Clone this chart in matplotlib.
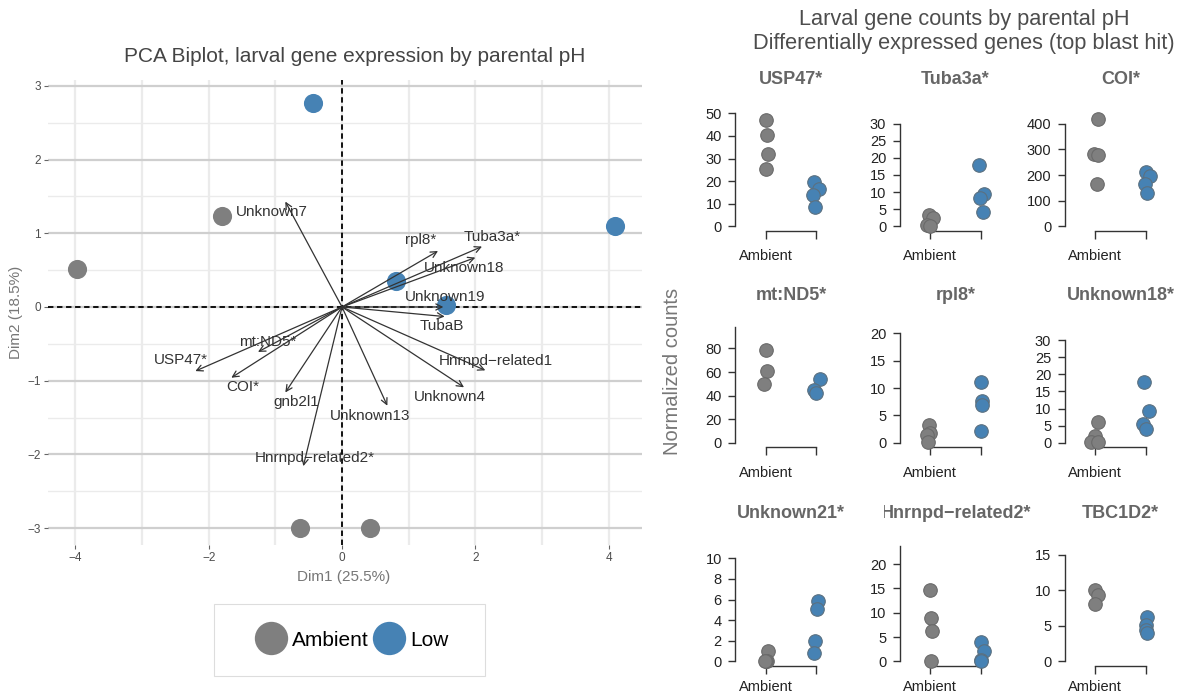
import numpy as np
import matplotlib
matplotlib.use('Agg')
import matplotlib.pyplot as plt
from matplotlib.lines import Line2D
from matplotlib.patches import Rectangle
from matplotlib.transforms import Bbox, TransformedBbox

plt.rcParams['font.family'] = ['Liberation Sans', 'DejaVu Sans']

W, H = 1182, 695
AMB = '#7f7f7f'
LOW = '#4682b4'

# ---- PCA scores, 4 larvae per parental pH ----
score_amb_x = [-3.98, -1.80, -0.63, 0.42]
score_amb_y = [0.51, 1.23, -3.00, -3.00]
score_low_x = [-0.44, 0.81, 1.56, 4.10]
score_low_y = [2.77, 0.35, 0.03, 1.10]

# ---- variable loadings (arrow tips) and label spots ----
load_names = ['Unknown7', 'rpl8*', 'Tuba3a*', 'Unknown18', 'Unknown19', 'TubaB',
              'Hnrnpd\u2212related1', 'Unknown4', 'Unknown13', 'Hnrnpd\u2212related2*',
              'gnb2l1', 'COI*', 'USP47*', 'mt:ND5*']
load_x = [-0.85, 1.44, 2.10, 2.00, 1.52, 1.54, 2.15, 1.83, 0.68, -0.58, -0.85, -1.66, -2.20, -1.26]
load_y = [1.43, 0.76, 0.82, 0.67, 0.00, -0.13, -0.86, -1.09, -1.34, -2.16, -1.16, -0.96, -0.87, -0.61]
label_x = [-1.05, 1.18, 2.25, 1.83, 1.54, 1.50, 2.30, 1.62, 0.42, -0.41, -0.69, -1.49, -2.42, -1.11]
label_y = [1.29, 0.91, 0.95, 0.53, 0.14, -0.26, -0.73, -1.22, -1.48, -2.05, -1.29, -1.09, -0.72, -0.47]

# ---- normalized counts per gene ----
genes = ['USP47*', 'Tuba3a*', 'COI*', 'mt:ND5*', 'rpl8*', 'Unknown18*',
         'Unknown21*', 'Hnrnpd\u2212related2*', 'TBC1D2*']
ambient = [[46.9, 40.4, 32.1, 25.4],
           [3.2, 2.4, 0.2, 0.0],
           [420, 281, 278, 163],
           [78.6, 60.8, 49.5],
           [3.2, 1.8, 1.5, 0.1],
           [6.1, 1.9, 0.3, 0.2],
           [1.0, 0.05, 0.0, 0.0],
           [14.7, 9.0, 6.2, 0.1],
           [10.1, 9.3, 8.1]]
low = [[19.4, 16.6, 13.9, 8.7],
       [17.8, 9.3, 8.4, 4.2],
       [212, 198, 163, 128],
       [53.7, 44.4, 42.4],
       [11.1, 7.6, 7.0, 2.1],
       [17.7, 9.2, 5.4, 4.1],
       [5.9, 5.1, 2.0, 0.8],
       [4.1, 2.05, 0.3, 0.0],
       [6.2, 5.1, 4.5, 4.0]]
# horizontal jitter (group units) as seen in the strip charts
amb_jit = [[0.0, 0.02, 0.05, 0.0], [-0.02, 0.06, -0.06, 0.0], [0.05, -0.03, 0.05, 0.04],
           [0.0, 0.02, -0.03], [-0.02, 0.0, -0.06, -0.05], [0.05, -0.01, -0.08, 0.05],
           [0.04, 0.02, 0.0, -0.02], [-0.01, 0.01, 0.03, 0.02], [-0.01, 0.05, -0.01]]
low_jit = [[-0.04, 0.05, -0.06, -0.03], [-0.04, 0.05, -0.02, 0.04], [0.0, 0.08, -0.01, 0.03],
           [0.06, -0.04, -0.01], [0.0, 0.03, 0.03, 0.01], [-0.03, 0.05, -0.05, 0.01],
           [0.03, 0.01, -0.03, -0.04], [0.0, 0.05, 0.01, 0.01], [0.03, 0.0, 0.01, 0.03]]
ylim_top = [50.1, 33.1, 441.6, 95.8, 20.66, 33.0, 10.94, 23.2, 15.9]
tick_step = [10, 5, 100, 20, 5, 5, 2, 5, 5]
tick_top = [50, 30, 400, 80, 20, 30, 10, 20, 15]
axis_top = [50, 30, 400, 98.4, 20, 30, 10, 23.8, 15]

fig = plt.figure(figsize=(W / 100, H / 100), dpi=100)


def box(l, t, w, h):
    # pixel box (left, top, width, height) -> figure fraction
    return [l / W, 1 - (t + h) / H, w / W, h / H]


def ftext(px, py, s, **kw):
    return fig.text(px / W, 1 - py / H, s, **kw)


# ================= PCA biplot =================
ax = fig.add_axes(box(48, 80, 594, 465))
ax.set_xlim(-4.41, 4.5)
ax.set_ylim(-3.23, 3.08)
ax.set_xticks([-4, -2, 0, 2, 4])
ax.set_xticks([-3, -1, 1, 3], minor=True)
ax.set_yticks(range(-3, 4))
ax.set_yticks(np.arange(-2.5, 3, 1), minor=True)
ax.xaxis.grid(True, which='both', color='#ebebeb', lw=1.6)
ax.yaxis.grid(True, which='major', color='#cfcfcf', lw=1.6)
ax.yaxis.grid(True, which='minor', color='#ebebeb', lw=1.0)
ax.set_axisbelow(True)
for s in ax.spines.values():
    s.set_visible(False)
ax.tick_params(which='major', length=3, color='#666666', labelsize=8.5,
               labelcolor='#4d4d4d', pad=2)
ax.tick_params(which='minor', length=0)
ax.axhline(0, color='black', ls=(0, (3, 2)), lw=1.3, zorder=1.5)
ax.axvline(0, color='black', ls=(0, (3, 2)), lw=1.3, zorder=1.5)

ax.scatter(score_amb_x, score_amb_y, s=190, color=AMB, lw=0, zorder=2)
ax.scatter(score_low_x, score_low_y, s=190, color=LOW, lw=0, zorder=2)

for gx, gy, lx, ly, name in zip(load_x, load_y, label_x, label_y, load_names):
    ax.annotate('', xy=(gx, gy), xytext=(0, 0),
                arrowprops=dict(arrowstyle='->', color='#333333', lw=0.9,
                                shrinkA=0, shrinkB=0, mutation_scale=11),
                zorder=3)
    ax.text(lx, ly, name, ha='center', va='center', fontsize=11, color='#333333', zorder=4)

ftext(355, 57, 'PCA Biplot, larval gene expression by parental pH', ha='center', va='center',
      fontsize=15, color='#444444')
ftext(344, 577, 'Dim1 (25.5%)', ha='center', va='center', fontsize=11, color='#777777')
ftext(16, 312, 'Dim2 (18.5%)', ha='center', va='center', fontsize=11, color='#777777',
      rotation=90)

# legend below the biplot
fig.add_artist(Rectangle((214 / W, 1 - 676 / H), 271 / W, 72 / H, transform=fig.transFigure,
                         fill=False, ec='#dddddd', lw=0.8))
handles = [Line2D([], [], marker='o', ls='', ms=24, color=AMB, mec='none'),
           Line2D([], [], marker='o', ls='', ms=24, color=LOW, mec='none')]
fig.legend(handles, ['Ambient', 'Low'], ncol=2, loc='center',
           bbox_to_anchor=(353 / W, 1 - 640 / H), frameon=False, fontsize=15,
           handlelength=1.3, handletextpad=0.35, columnspacing=0.35)

# ================= strip charts =================
ftext(964, 20, 'Larval gene counts by parental pH', ha='center', va='center',
      fontsize=15.7, color='#4d4d4d')
ftext(964, 44, 'Differentially expressed genes (top blast hit)', ha='center', va='center',
      fontsize=15.7, color='#4d4d4d')
ftext(673, 371, 'Normalized counts', ha='center', va='center', fontsize=14.5,
      color='#777777', rotation=90)

spine_px = [735, 899.5, 1064.5]
bracket_px = [230.7, 447.3, 666]
title_px = [80, 296, 513]
xlab_pad = [7.5, 7.5, 4.0]  # bottom row sits on the figure edge
clip = TransformedBbox(Bbox([[884 / W, 0], [1, 1]]), fig.transFigure)

for i, gene in enumerate(genes):
    r, c = divmod(i, 3)
    a = fig.add_axes(box(spine_px[c], bracket_px[r] - 122, 112, 122))
    a.patch.set_alpha(0)
    a.set_xlim(0.4, 2.6)
    a.set_ylim(-0.04 * ylim_top[i], 1.04 * ylim_top[i])
    a.scatter(1 + np.array(amb_jit[i]), ambient[i], s=95, color=AMB, edgecolors='#6a6a6a',
              lw=0.8, clip_on=False, zorder=3)
    a.scatter(2 + np.array(low_jit[i]), low[i], s=95, color=LOW, edgecolors='#5b7080',
              lw=0.8, clip_on=False, zorder=3)
    a.spines[['top', 'right']].set_visible(False)
    a.spines['left'].set_bounds(0, axis_top[i])
    a.spines['bottom'].set_bounds(1, 2)
    for s in ('left', 'bottom'):
        a.spines[s].set_color('#333333')
        a.spines[s].set_linewidth(1.0)
    a.set_xticks([1, 2], ['Ambient', ''])
    a.set_yticks(np.arange(0, tick_top[i] + 1, tick_step[i]))
    a.tick_params(axis='y', direction='out', length=5, width=1, color='#333333',
                  labelsize=10.5, labelcolor='#222222', pad=4.5)
    a.tick_params(axis='x', direction='out', length=6, width=1, color='#333333',
                  labelsize=10.5, labelcolor='#222222', pad=xlab_pad[r])
    t = ftext(spine_px[c] + 56, title_px[r], gene, ha='center', va='center', fontsize=13,
              weight='bold', color='#666666')
    if c == 1:
        t.set_clip_box(clip)
        t.set_clip_on(True)

fig.savefig('out.png', dpi=100)
